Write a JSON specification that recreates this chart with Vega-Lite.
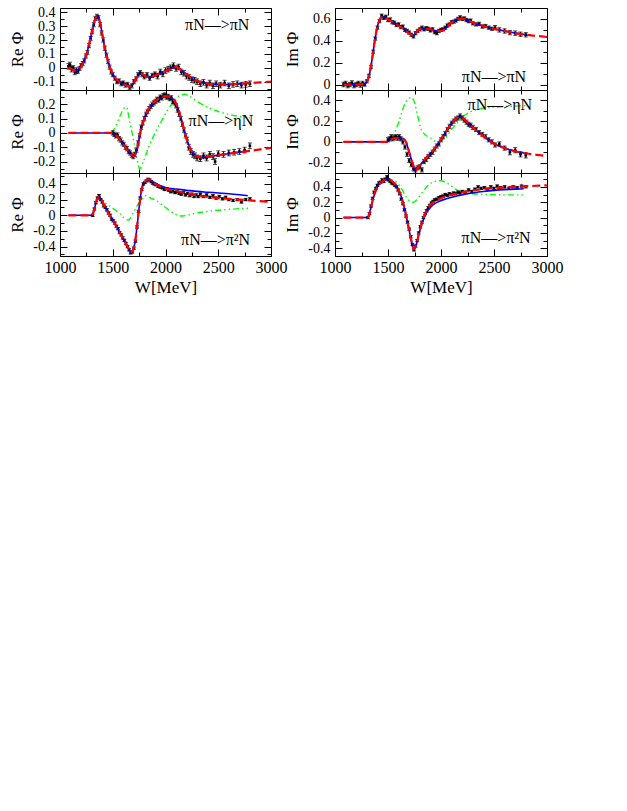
{
"$schema": "https://vega.github.io/schema/vega-lite/v6.json",
"background": "white",
"padding": {"left": 7, "top": 0, "right": 5, "bottom": 5},
"config": {
  "font": "Liberation Serif",
  "view": {"stroke": "black", "strokeWidth": 1},
  "axis": {"domain": false, "grid": false, "labelFont": "Liberation Serif", "labelColor": "black", "titleFont": "Liberation Serif", "titleFontSize": 17, "titleFontWeight": "normal", "titleColor": "black", "tickColor": "black", "tickWidth": 1, "labelFlush": false, "labelOverlap": false},
  "axisX": {"labelFontSize": 16},
  "axisY": {"labelFontSize": 14}
},
"datasets": {
"rows": [
{"panel":"A","series":"label","label":"πN––>πN"},{"panel":"B","series":"label","label":"πN––>πN"},{"panel":"C","series":"label","label":"πN––>ηN"},{"panel":"D","series":"label","label":"πN––>ηN"},{"panel":"E","series":"label","label":"πN––>π²N"},{"panel":"F","series":"label","label":"πN––>π²N"},
{"panel":"A","series":"red","W":1080,"v":0},{"panel":"A","series":"red","W":1120,"v":-0.015},{"panel":"A","series":"red","W":1150,"v":-0.02},{"panel":"A","series":"red","W":1180,"v":-0.01},{"panel":"A","series":"red","W":1210,"v":0.02},{"panel":"A","series":"red","W":1240,"v":0.07},{"panel":"A","series":"red","W":1270,"v":0.15},{"panel":"A","series":"red","W":1300,"v":0.25},{"panel":"A","series":"red","W":1325,"v":0.33},{"panel":"A","series":"red","W":1350,"v":0.372},{"panel":"A","series":"red","W":1370,"v":0.35},{"panel":"A","series":"red","W":1390,"v":0.285},{"panel":"A","series":"red","W":1410,"v":0.2},{"panel":"A","series":"red","W":1430,"v":0.125},{"panel":"A","series":"red","W":1460,"v":0.035},{"panel":"A","series":"red","W":1490,"v":-0.03},{"panel":"A","series":"red","W":1520,"v":-0.07},{"panel":"A","series":"red","W":1560,"v":-0.1},{"panel":"A","series":"red","W":1600,"v":-0.117},{"panel":"A","series":"red","W":1640,"v":-0.13},{"panel":"A","series":"red","W":1670,"v":-0.135},{"panel":"A","series":"red","W":1700,"v":-0.11},{"panel":"A","series":"red","W":1730,"v":-0.07},{"panel":"A","series":"red","W":1760,"v":-0.045},{"panel":"A","series":"red","W":1790,"v":-0.05},{"panel":"A","series":"red","W":1820,"v":-0.065},{"panel":"A","series":"red","W":1860,"v":-0.066},{"panel":"A","series":"red","W":1900,"v":-0.056},{"panel":"A","series":"red","W":1950,"v":-0.04},{"panel":"A","series":"red","W":2000,"v":-0.025},{"panel":"A","series":"red","W":2050,"v":-0.006},{"panel":"A","series":"red","W":2090,"v":0.004},{"panel":"A","series":"red","W":2120,"v":0},{"panel":"A","series":"red","W":2150,"v":-0.018},{"panel":"A","series":"red","W":2200,"v":-0.05},{"panel":"A","series":"red","W":2250,"v":-0.076},{"panel":"A","series":"red","W":2300,"v":-0.095},{"panel":"A","series":"red","W":2350,"v":-0.108},{"panel":"A","series":"red","W":2400,"v":-0.115},{"panel":"A","series":"red","W":2500,"v":-0.12},{"panel":"A","series":"red","W":2600,"v":-0.12},{"panel":"A","series":"red","W":2700,"v":-0.116},{"panel":"A","series":"red","W":2800,"v":-0.11},{"panel":"A","series":"red","W":2900,"v":-0.105},{"panel":"A","series":"red","W":3000,"v":-0.1},
{"panel":"A","series":"blue","W":1080,"v":0},{"panel":"A","series":"blue","W":1120,"v":-0.015},{"panel":"A","series":"blue","W":1150,"v":-0.02},{"panel":"A","series":"blue","W":1180,"v":-0.01},{"panel":"A","series":"blue","W":1210,"v":0.02},{"panel":"A","series":"blue","W":1240,"v":0.07},{"panel":"A","series":"blue","W":1270,"v":0.15},{"panel":"A","series":"blue","W":1300,"v":0.25},{"panel":"A","series":"blue","W":1325,"v":0.33},{"panel":"A","series":"blue","W":1350,"v":0.372},{"panel":"A","series":"blue","W":1370,"v":0.35},{"panel":"A","series":"blue","W":1390,"v":0.285},{"panel":"A","series":"blue","W":1410,"v":0.2},{"panel":"A","series":"blue","W":1430,"v":0.125},{"panel":"A","series":"blue","W":1460,"v":0.035},{"panel":"A","series":"blue","W":1490,"v":-0.03},{"panel":"A","series":"blue","W":1520,"v":-0.07},{"panel":"A","series":"blue","W":1560,"v":-0.1},{"panel":"A","series":"blue","W":1600,"v":-0.117},{"panel":"A","series":"blue","W":1640,"v":-0.13},{"panel":"A","series":"blue","W":1670,"v":-0.135},{"panel":"A","series":"blue","W":1700,"v":-0.11},{"panel":"A","series":"blue","W":1730,"v":-0.07},{"panel":"A","series":"blue","W":1760,"v":-0.045},{"panel":"A","series":"blue","W":1790,"v":-0.05},{"panel":"A","series":"blue","W":1820,"v":-0.065},{"panel":"A","series":"blue","W":1860,"v":-0.066},{"panel":"A","series":"blue","W":1900,"v":-0.056},{"panel":"A","series":"blue","W":1950,"v":-0.04},{"panel":"A","series":"blue","W":2000,"v":-0.025},{"panel":"A","series":"blue","W":2050,"v":-0.006},{"panel":"A","series":"blue","W":2090,"v":0.004},{"panel":"A","series":"blue","W":2120,"v":0},{"panel":"A","series":"blue","W":2150,"v":-0.018},{"panel":"A","series":"blue","W":2200,"v":-0.05},{"panel":"A","series":"blue","W":2250,"v":-0.076},{"panel":"A","series":"blue","W":2300,"v":-0.095},{"panel":"A","series":"blue","W":2350,"v":-0.108},{"panel":"A","series":"blue","W":2400,"v":-0.115},{"panel":"A","series":"blue","W":2500,"v":-0.12},{"panel":"A","series":"blue","W":2600,"v":-0.12},{"panel":"A","series":"blue","W":2700,"v":-0.116},{"panel":"A","series":"blue","W":2800,"v":-0.11},
{"panel":"A","series":"data","W":1080,"v":0.01,"err":0.02},{"panel":"A","series":"data","W":1095,"v":0.02,"err":0.02},{"panel":"A","series":"data","W":1110,"v":-0.01,"err":0.02},{"panel":"A","series":"data","W":1125,"v":0,"err":0.015},{"panel":"A","series":"data","W":1140,"v":-0.03,"err":0.02},{"panel":"A","series":"data","W":1155,"v":-0.02,"err":0.02},{"panel":"A","series":"data","W":1170,"v":-0.025,"err":0.015},{"panel":"A","series":"data","W":1185,"v":-0.005,"err":0.015},{"panel":"A","series":"data","W":1200,"v":0.015,"err":0.015},{"panel":"A","series":"data","W":1215,"v":0.03,"err":0.015},{"panel":"A","series":"data","W":1230,"v":0.05,"err":0.015},{"panel":"A","series":"data","W":1245,"v":0.085,"err":0.015},{"panel":"A","series":"data","W":1260,"v":0.11,"err":0.015},{"panel":"A","series":"data","W":1275,"v":0.16,"err":0.015},{"panel":"A","series":"data","W":1290,"v":0.21,"err":0.015},{"panel":"A","series":"data","W":1305,"v":0.26,"err":0.015},{"panel":"A","series":"data","W":1320,"v":0.31,"err":0.015},{"panel":"A","series":"data","W":1335,"v":0.355,"err":0.015},{"panel":"A","series":"data","W":1350,"v":0.37,"err":0.015},{"panel":"A","series":"data","W":1365,"v":0.36,"err":0.015},{"panel":"A","series":"data","W":1380,"v":0.31,"err":0.015},{"panel":"A","series":"data","W":1395,"v":0.25,"err":0.015},{"panel":"A","series":"data","W":1410,"v":0.2,"err":0.015},{"panel":"A","series":"data","W":1425,"v":0.14,"err":0.015},{"panel":"A","series":"data","W":1440,"v":0.09,"err":0.015},{"panel":"A","series":"data","W":1455,"v":0.045,"err":0.015},{"panel":"A","series":"data","W":1470,"v":0.005,"err":0.015},{"panel":"A","series":"data","W":1485,"v":-0.03,"err":0.015},{"panel":"A","series":"data","W":1500,"v":-0.05,"err":0.015},{"panel":"A","series":"data","W":1520,"v":-0.075,"err":0.015},{"panel":"A","series":"data","W":1540,"v":-0.1,"err":0.015},{"panel":"A","series":"data","W":1560,"v":-0.095,"err":0.015},{"panel":"A","series":"data","W":1580,"v":-0.115,"err":0.015},{"panel":"A","series":"data","W":1600,"v":-0.11,"err":0.015},{"panel":"A","series":"data","W":1620,"v":-0.125,"err":0.015},{"panel":"A","series":"data","W":1640,"v":-0.12,"err":0.015},{"panel":"A","series":"data","W":1660,"v":-0.14,"err":0.015},{"panel":"A","series":"data","W":1680,"v":-0.13,"err":0.015},{"panel":"A","series":"data","W":1700,"v":-0.1,"err":0.015},{"panel":"A","series":"data","W":1720,"v":-0.08,"err":0.015},{"panel":"A","series":"data","W":1740,"v":-0.05,"err":0.015},{"panel":"A","series":"data","W":1760,"v":-0.035,"err":0.015},{"panel":"A","series":"data","W":1780,"v":-0.05,"err":0.015},{"panel":"A","series":"data","W":1800,"v":-0.065,"err":0.015},{"panel":"A","series":"data","W":1825,"v":-0.05,"err":0.015},{"panel":"A","series":"data","W":1850,"v":-0.075,"err":0.015},{"panel":"A","series":"data","W":1875,"v":-0.055,"err":0.015},{"panel":"A","series":"data","W":1900,"v":-0.045,"err":0.015},{"panel":"A","series":"data","W":1925,"v":-0.06,"err":0.02},{"panel":"A","series":"data","W":1950,"v":-0.03,"err":0.02},{"panel":"A","series":"data","W":1975,"v":-0.045,"err":0.02},{"panel":"A","series":"data","W":2000,"v":-0.02,"err":0.02},{"panel":"A","series":"data","W":2025,"v":-0.01,"err":0.02},{"panel":"A","series":"data","W":2050,"v":0,"err":0.02},{"panel":"A","series":"data","W":2075,"v":0.015,"err":0.02},{"panel":"A","series":"data","W":2100,"v":-0.005,"err":0.02},{"panel":"A","series":"data","W":2125,"v":0.005,"err":0.02},{"panel":"A","series":"data","W":2150,"v":-0.03,"err":0.02},{"panel":"A","series":"data","W":2175,"v":-0.04,"err":0.02},{"panel":"A","series":"data","W":2200,"v":-0.06,"err":0.02},{"panel":"A","series":"data","W":2225,"v":-0.07,"err":0.02},{"panel":"A","series":"data","W":2250,"v":-0.085,"err":0.02},{"panel":"A","series":"data","W":2275,"v":-0.09,"err":0.02},{"panel":"A","series":"data","W":2300,"v":-0.1,"err":0.02},{"panel":"A","series":"data","W":2330,"v":-0.115,"err":0.02},{"panel":"A","series":"data","W":2360,"v":-0.105,"err":0.02},{"panel":"A","series":"data","W":2390,"v":-0.125,"err":0.02},{"panel":"A","series":"data","W":2420,"v":-0.11,"err":0.02},{"panel":"A","series":"data","W":2450,"v":-0.13,"err":0.02},{"panel":"A","series":"data","W":2480,"v":-0.115,"err":0.02},{"panel":"A","series":"data","W":2520,"v":-0.125,"err":0.02},{"panel":"A","series":"data","W":2560,"v":-0.11,"err":0.02},{"panel":"A","series":"data","W":2600,"v":-0.13,"err":0.02},{"panel":"A","series":"data","W":2640,"v":-0.12,"err":0.02},{"panel":"A","series":"data","W":2680,"v":-0.115,"err":0.02},{"panel":"A","series":"data","W":2720,"v":-0.125,"err":0.02},{"panel":"A","series":"data","W":2760,"v":-0.12,"err":0.02},{"panel":"A","series":"data","W":2800,"v":-0.115,"err":0.02},
{"panel":"B","series":"red","W":1080,"v":0},{"panel":"B","series":"red","W":1200,"v":0},{"panel":"B","series":"red","W":1270,"v":0.003},{"panel":"B","series":"red","W":1300,"v":0.02},{"panel":"B","series":"red","W":1320,"v":0.075},{"panel":"B","series":"red","W":1340,"v":0.17},{"panel":"B","series":"red","W":1360,"v":0.3},{"panel":"B","series":"red","W":1380,"v":0.43},{"panel":"B","series":"red","W":1400,"v":0.53},{"panel":"B","series":"red","W":1420,"v":0.59},{"panel":"B","series":"red","W":1440,"v":0.615},{"panel":"B","series":"red","W":1460,"v":0.62},{"panel":"B","series":"red","W":1490,"v":0.603},{"panel":"B","series":"red","W":1530,"v":0.578},{"panel":"B","series":"red","W":1580,"v":0.55},{"panel":"B","series":"red","W":1630,"v":0.52},{"panel":"B","series":"red","W":1680,"v":0.482},{"panel":"B","series":"red","W":1710,"v":0.46},{"panel":"B","series":"red","W":1735,"v":0.445},{"panel":"B","series":"red","W":1755,"v":0.46},{"panel":"B","series":"red","W":1780,"v":0.493},{"panel":"B","series":"red","W":1820,"v":0.51},{"panel":"B","series":"red","W":1870,"v":0.51},{"panel":"B","series":"red","W":1920,"v":0.5},{"panel":"B","series":"red","W":1960,"v":0.49},{"panel":"B","series":"red","W":2000,"v":0.49},{"panel":"B","series":"red","W":2040,"v":0.51},{"panel":"B","series":"red","W":2080,"v":0.55},{"panel":"B","series":"red","W":2120,"v":0.58},{"panel":"B","series":"red","W":2160,"v":0.6},{"panel":"B","series":"red","W":2200,"v":0.602},{"panel":"B","series":"red","W":2250,"v":0.587},{"panel":"B","series":"red","W":2300,"v":0.567},{"panel":"B","series":"red","W":2400,"v":0.535},{"panel":"B","series":"red","W":2500,"v":0.51},{"panel":"B","series":"red","W":2600,"v":0.49},{"panel":"B","series":"red","W":2700,"v":0.47},{"panel":"B","series":"red","W":2800,"v":0.455},{"panel":"B","series":"red","W":2900,"v":0.445},{"panel":"B","series":"red","W":3000,"v":0.435},
{"panel":"B","series":"blue","W":1080,"v":0},{"panel":"B","series":"blue","W":1200,"v":0},{"panel":"B","series":"blue","W":1270,"v":0.003},{"panel":"B","series":"blue","W":1300,"v":0.02},{"panel":"B","series":"blue","W":1320,"v":0.075},{"panel":"B","series":"blue","W":1340,"v":0.17},{"panel":"B","series":"blue","W":1360,"v":0.3},{"panel":"B","series":"blue","W":1380,"v":0.43},{"panel":"B","series":"blue","W":1400,"v":0.53},{"panel":"B","series":"blue","W":1420,"v":0.59},{"panel":"B","series":"blue","W":1440,"v":0.615},{"panel":"B","series":"blue","W":1460,"v":0.62},{"panel":"B","series":"blue","W":1490,"v":0.603},{"panel":"B","series":"blue","W":1530,"v":0.578},{"panel":"B","series":"blue","W":1580,"v":0.55},{"panel":"B","series":"blue","W":1630,"v":0.52},{"panel":"B","series":"blue","W":1680,"v":0.482},{"panel":"B","series":"blue","W":1710,"v":0.46},{"panel":"B","series":"blue","W":1735,"v":0.445},{"panel":"B","series":"blue","W":1755,"v":0.46},{"panel":"B","series":"blue","W":1780,"v":0.493},{"panel":"B","series":"blue","W":1820,"v":0.51},{"panel":"B","series":"blue","W":1870,"v":0.51},{"panel":"B","series":"blue","W":1920,"v":0.5},{"panel":"B","series":"blue","W":1960,"v":0.49},{"panel":"B","series":"blue","W":2000,"v":0.49},{"panel":"B","series":"blue","W":2040,"v":0.51},{"panel":"B","series":"blue","W":2080,"v":0.55},{"panel":"B","series":"blue","W":2120,"v":0.58},{"panel":"B","series":"blue","W":2160,"v":0.6},{"panel":"B","series":"blue","W":2200,"v":0.602},{"panel":"B","series":"blue","W":2250,"v":0.587},{"panel":"B","series":"blue","W":2300,"v":0.567},{"panel":"B","series":"blue","W":2400,"v":0.535},{"panel":"B","series":"blue","W":2500,"v":0.51},{"panel":"B","series":"blue","W":2600,"v":0.49},{"panel":"B","series":"blue","W":2700,"v":0.47},{"panel":"B","series":"blue","W":2800,"v":0.455},
{"panel":"B","series":"data","W":1080,"v":0,"err":0.02},{"panel":"B","series":"data","W":1100,"v":0.01,"err":0.02},{"panel":"B","series":"data","W":1120,"v":-0.01,"err":0.02},{"panel":"B","series":"data","W":1140,"v":0,"err":0.02},{"panel":"B","series":"data","W":1160,"v":0.015,"err":0.02},{"panel":"B","series":"data","W":1180,"v":-0.01,"err":0.02},{"panel":"B","series":"data","W":1200,"v":0,"err":0.02},{"panel":"B","series":"data","W":1220,"v":0.01,"err":0.02},{"panel":"B","series":"data","W":1240,"v":-0.005,"err":0.02},{"panel":"B","series":"data","W":1260,"v":0.01,"err":0.02},{"panel":"B","series":"data","W":1280,"v":0,"err":0.015},{"panel":"B","series":"data","W":1300,"v":0.03,"err":0.015},{"panel":"B","series":"data","W":1320,"v":0.08,"err":0.015},{"panel":"B","series":"data","W":1340,"v":0.16,"err":0.015},{"panel":"B","series":"data","W":1360,"v":0.3,"err":0.015},{"panel":"B","series":"data","W":1380,"v":0.42,"err":0.015},{"panel":"B","series":"data","W":1400,"v":0.52,"err":0.015},{"panel":"B","series":"data","W":1420,"v":0.58,"err":0.015},{"panel":"B","series":"data","W":1440,"v":0.63,"err":0.015},{"panel":"B","series":"data","W":1460,"v":0.61,"err":0.015},{"panel":"B","series":"data","W":1480,"v":0.62,"err":0.015},{"panel":"B","series":"data","W":1500,"v":0.59,"err":0.015},{"panel":"B","series":"data","W":1520,"v":0.595,"err":0.015},{"panel":"B","series":"data","W":1540,"v":0.57,"err":0.015},{"panel":"B","series":"data","W":1560,"v":0.565,"err":0.015},{"panel":"B","series":"data","W":1580,"v":0.545,"err":0.015},{"panel":"B","series":"data","W":1600,"v":0.55,"err":0.015},{"panel":"B","series":"data","W":1620,"v":0.525,"err":0.015},{"panel":"B","series":"data","W":1640,"v":0.53,"err":0.015},{"panel":"B","series":"data","W":1660,"v":0.5,"err":0.015},{"panel":"B","series":"data","W":1680,"v":0.49,"err":0.015},{"panel":"B","series":"data","W":1700,"v":0.475,"err":0.015},{"panel":"B","series":"data","W":1720,"v":0.455,"err":0.015},{"panel":"B","series":"data","W":1740,"v":0.44,"err":0.015},{"panel":"B","series":"data","W":1760,"v":0.47,"err":0.015},{"panel":"B","series":"data","W":1780,"v":0.49,"err":0.015},{"panel":"B","series":"data","W":1800,"v":0.505,"err":0.015},{"panel":"B","series":"data","W":1820,"v":0.52,"err":0.015},{"panel":"B","series":"data","W":1840,"v":0.505,"err":0.015},{"panel":"B","series":"data","W":1860,"v":0.515,"err":0.015},{"panel":"B","series":"data","W":1880,"v":0.51,"err":0.015},{"panel":"B","series":"data","W":1900,"v":0.495,"err":0.015},{"panel":"B","series":"data","W":1920,"v":0.505,"err":0.015},{"panel":"B","series":"data","W":1940,"v":0.48,"err":0.015},{"panel":"B","series":"data","W":1960,"v":0.47,"err":0.015},{"panel":"B","series":"data","W":1980,"v":0.49,"err":0.015},{"panel":"B","series":"data","W":2000,"v":0.5,"err":0.015},{"panel":"B","series":"data","W":2020,"v":0.505,"err":0.015},{"panel":"B","series":"data","W":2040,"v":0.52,"err":0.015},{"panel":"B","series":"data","W":2060,"v":0.54,"err":0.015},{"panel":"B","series":"data","W":2080,"v":0.55,"err":0.015},{"panel":"B","series":"data","W":2100,"v":0.57,"err":0.015},{"panel":"B","series":"data","W":2120,"v":0.575,"err":0.015},{"panel":"B","series":"data","W":2140,"v":0.585,"err":0.015},{"panel":"B","series":"data","W":2160,"v":0.6,"err":0.015},{"panel":"B","series":"data","W":2180,"v":0.615,"err":0.015},{"panel":"B","series":"data","W":2200,"v":0.6,"err":0.015},{"panel":"B","series":"data","W":2220,"v":0.605,"err":0.015},{"panel":"B","series":"data","W":2240,"v":0.59,"err":0.015},{"panel":"B","series":"data","W":2260,"v":0.58,"err":0.015},{"panel":"B","series":"data","W":2280,"v":0.585,"err":0.015},{"panel":"B","series":"data","W":2300,"v":0.56,"err":0.015},{"panel":"B","series":"data","W":2330,"v":0.55,"err":0.015},{"panel":"B","series":"data","W":2360,"v":0.555,"err":0.015},{"panel":"B","series":"data","W":2390,"v":0.53,"err":0.015},{"panel":"B","series":"data","W":2420,"v":0.535,"err":0.015},{"panel":"B","series":"data","W":2450,"v":0.52,"err":0.015},{"panel":"B","series":"data","W":2480,"v":0.51,"err":0.015},{"panel":"B","series":"data","W":2510,"v":0.52,"err":0.02},{"panel":"B","series":"data","W":2550,"v":0.5,"err":0.02},{"panel":"B","series":"data","W":2600,"v":0.49,"err":0.02},{"panel":"B","series":"data","W":2650,"v":0.475,"err":0.02},{"panel":"B","series":"data","W":2700,"v":0.47,"err":0.02},{"panel":"B","series":"data","W":2750,"v":0.46,"err":0.02},{"panel":"B","series":"data","W":2800,"v":0.455,"err":0.02},
{"panel":"C","series":"red","W":1080,"v":0},{"panel":"C","series":"red","W":1490,"v":0},{"panel":"C","series":"red","W":1520,"v":-0.01},{"panel":"C","series":"red","W":1560,"v":-0.04},{"panel":"C","series":"red","W":1600,"v":-0.08},{"panel":"C","series":"red","W":1640,"v":-0.12},{"panel":"C","series":"red","W":1670,"v":-0.148},{"panel":"C","series":"red","W":1700,"v":-0.16},{"panel":"C","series":"red","W":1720,"v":-0.14},{"panel":"C","series":"red","W":1740,"v":-0.08},{"panel":"C","series":"red","W":1760,"v":0},{"panel":"C","series":"red","W":1790,"v":0.08},{"panel":"C","series":"red","W":1820,"v":0.14},{"panel":"C","series":"red","W":1860,"v":0.19},{"panel":"C","series":"red","W":1900,"v":0.22},{"panel":"C","series":"red","W":1950,"v":0.245},{"panel":"C","series":"red","W":2000,"v":0.257},{"panel":"C","series":"red","W":2040,"v":0.25},{"panel":"C","series":"red","W":2080,"v":0.23},{"panel":"C","series":"red","W":2110,"v":0.19},{"panel":"C","series":"red","W":2140,"v":0.12},{"panel":"C","series":"red","W":2170,"v":0.04},{"panel":"C","series":"red","W":2200,"v":-0.04},{"panel":"C","series":"red","W":2230,"v":-0.1},{"panel":"C","series":"red","W":2260,"v":-0.14},{"panel":"C","series":"red","W":2300,"v":-0.165},{"panel":"C","series":"red","W":2350,"v":-0.172},{"panel":"C","series":"red","W":2400,"v":-0.166},{"panel":"C","series":"red","W":2500,"v":-0.155},{"panel":"C","series":"red","W":2600,"v":-0.145},{"panel":"C","series":"red","W":2700,"v":-0.135},{"panel":"C","series":"red","W":2800,"v":-0.125},{"panel":"C","series":"red","W":2900,"v":-0.115},{"panel":"C","series":"red","W":3000,"v":-0.105},
{"panel":"C","series":"blue","W":1080,"v":0},{"panel":"C","series":"blue","W":1490,"v":0},{"panel":"C","series":"blue","W":1520,"v":-0.01},{"panel":"C","series":"blue","W":1560,"v":-0.04},{"panel":"C","series":"blue","W":1600,"v":-0.08},{"panel":"C","series":"blue","W":1640,"v":-0.12},{"panel":"C","series":"blue","W":1670,"v":-0.148},{"panel":"C","series":"blue","W":1700,"v":-0.16},{"panel":"C","series":"blue","W":1720,"v":-0.14},{"panel":"C","series":"blue","W":1740,"v":-0.08},{"panel":"C","series":"blue","W":1760,"v":0},{"panel":"C","series":"blue","W":1790,"v":0.08},{"panel":"C","series":"blue","W":1820,"v":0.14},{"panel":"C","series":"blue","W":1860,"v":0.19},{"panel":"C","series":"blue","W":1900,"v":0.22},{"panel":"C","series":"blue","W":1950,"v":0.245},{"panel":"C","series":"blue","W":2000,"v":0.257},{"panel":"C","series":"blue","W":2040,"v":0.25},{"panel":"C","series":"blue","W":2080,"v":0.23},{"panel":"C","series":"blue","W":2110,"v":0.19},{"panel":"C","series":"blue","W":2140,"v":0.12},{"panel":"C","series":"blue","W":2170,"v":0.04},{"panel":"C","series":"blue","W":2200,"v":-0.04},{"panel":"C","series":"blue","W":2230,"v":-0.1},{"panel":"C","series":"blue","W":2260,"v":-0.14},{"panel":"C","series":"blue","W":2300,"v":-0.165},{"panel":"C","series":"blue","W":2350,"v":-0.172},{"panel":"C","series":"blue","W":2400,"v":-0.166},{"panel":"C","series":"blue","W":2500,"v":-0.155},{"panel":"C","series":"blue","W":2600,"v":-0.145},{"panel":"C","series":"blue","W":2700,"v":-0.135},{"panel":"C","series":"blue","W":2800,"v":-0.125},
{"panel":"C","series":"green","W":1490,"v":0},{"panel":"C","series":"green","W":1530,"v":0.05},{"panel":"C","series":"green","W":1570,"v":0.12},{"panel":"C","series":"green","W":1610,"v":0.175},{"panel":"C","series":"green","W":1630,"v":0.18},{"panel":"C","series":"green","W":1660,"v":0.08},{"panel":"C","series":"green","W":1700,"v":-0.06},{"panel":"C","series":"green","W":1730,"v":-0.18},{"panel":"C","series":"green","W":1755,"v":-0.25},{"panel":"C","series":"green","W":1790,"v":-0.2},{"panel":"C","series":"green","W":1840,"v":-0.1},{"panel":"C","series":"green","W":1900,"v":0},{"panel":"C","series":"green","W":1960,"v":0.08},{"panel":"C","series":"green","W":2020,"v":0.16},{"panel":"C","series":"green","W":2080,"v":0.22},{"panel":"C","series":"green","W":2130,"v":0.26},{"panel":"C","series":"green","W":2180,"v":0.27},{"panel":"C","series":"green","W":2230,"v":0.255},{"panel":"C","series":"green","W":2300,"v":0.22},{"panel":"C","series":"green","W":2400,"v":0.18},{"panel":"C","series":"green","W":2500,"v":0.15},{"panel":"C","series":"green","W":2600,"v":0.13},{"panel":"C","series":"green","W":2700,"v":0.115},{"panel":"C","series":"green","W":2800,"v":0.105},
{"panel":"C","series":"data","W":1500,"v":0,"err":0.015},{"panel":"C","series":"data","W":1515,"v":-0.01,"err":0.015},{"panel":"C","series":"data","W":1530,"v":-0.02,"err":0.015},{"panel":"C","series":"data","W":1545,"v":-0.015,"err":0.015},{"panel":"C","series":"data","W":1560,"v":-0.04,"err":0.015},{"panel":"C","series":"data","W":1575,"v":-0.05,"err":0.015},{"panel":"C","series":"data","W":1590,"v":-0.07,"err":0.015},{"panel":"C","series":"data","W":1605,"v":-0.08,"err":0.015},{"panel":"C","series":"data","W":1620,"v":-0.1,"err":0.015},{"panel":"C","series":"data","W":1635,"v":-0.11,"err":0.015},{"panel":"C","series":"data","W":1650,"v":-0.13,"err":0.015},{"panel":"C","series":"data","W":1665,"v":-0.14,"err":0.015},{"panel":"C","series":"data","W":1680,"v":-0.155,"err":0.015},{"panel":"C","series":"data","W":1695,"v":-0.165,"err":0.015},{"panel":"C","series":"data","W":1710,"v":-0.15,"err":0.015},{"panel":"C","series":"data","W":1725,"v":-0.12,"err":0.015},{"panel":"C","series":"data","W":1740,"v":-0.07,"err":0.015},{"panel":"C","series":"data","W":1755,"v":-0.02,"err":0.015},{"panel":"C","series":"data","W":1770,"v":0.04,"err":0.015},{"panel":"C","series":"data","W":1785,"v":0.07,"err":0.015},{"panel":"C","series":"data","W":1800,"v":0.1,"err":0.015},{"panel":"C","series":"data","W":1815,"v":0.13,"err":0.015},{"panel":"C","series":"data","W":1830,"v":0.15,"err":0.015},{"panel":"C","series":"data","W":1845,"v":0.17,"err":0.015},{"panel":"C","series":"data","W":1860,"v":0.185,"err":0.015},{"panel":"C","series":"data","W":1875,"v":0.2,"err":0.015},{"panel":"C","series":"data","W":1890,"v":0.21,"err":0.015},{"panel":"C","series":"data","W":1905,"v":0.22,"err":0.015},{"panel":"C","series":"data","W":1920,"v":0.235,"err":0.015},{"panel":"C","series":"data","W":1935,"v":0.23,"err":0.015},{"panel":"C","series":"data","W":1950,"v":0.25,"err":0.015},{"panel":"C","series":"data","W":1965,"v":0.245,"err":0.015},{"panel":"C","series":"data","W":1980,"v":0.26,"err":0.015},{"panel":"C","series":"data","W":1995,"v":0.265,"err":0.015},{"panel":"C","series":"data","W":2010,"v":0.25,"err":0.015},{"panel":"C","series":"data","W":2025,"v":0.255,"err":0.015},{"panel":"C","series":"data","W":2040,"v":0.24,"err":0.015},{"panel":"C","series":"data","W":2055,"v":0.245,"err":0.015},{"panel":"C","series":"data","W":2070,"v":0.22,"err":0.015},{"panel":"C","series":"data","W":2085,"v":0.21,"err":0.015},{"panel":"C","series":"data","W":2100,"v":0.19,"err":0.015},{"panel":"C","series":"data","W":2115,"v":0.16,"err":0.015},{"panel":"C","series":"data","W":2130,"v":0.13,"err":0.015},{"panel":"C","series":"data","W":2145,"v":0.1,"err":0.015},{"panel":"C","series":"data","W":2160,"v":0.06,"err":0.015},{"panel":"C","series":"data","W":2175,"v":0.02,"err":0.015},{"panel":"C","series":"data","W":2190,"v":-0.02,"err":0.015},{"panel":"C","series":"data","W":2205,"v":-0.05,"err":0.02},{"panel":"C","series":"data","W":2220,"v":-0.1,"err":0.02},{"panel":"C","series":"data","W":2240,"v":-0.13,"err":0.02},{"panel":"C","series":"data","W":2260,"v":-0.15,"err":0.02},{"panel":"C","series":"data","W":2280,"v":-0.16,"err":0.02},{"panel":"C","series":"data","W":2300,"v":-0.175,"err":0.02},{"panel":"C","series":"data","W":2330,"v":-0.18,"err":0.02},{"panel":"C","series":"data","W":2360,"v":-0.16,"err":0.02},{"panel":"C","series":"data","W":2390,"v":-0.175,"err":0.02},{"panel":"C","series":"data","W":2420,"v":-0.15,"err":0.02},{"panel":"C","series":"data","W":2450,"v":-0.165,"err":0.02},{"panel":"C","series":"data","W":2470,"v":-0.2,"err":0.02},{"panel":"C","series":"data","W":2500,"v":-0.145,"err":0.02},{"panel":"C","series":"data","W":2550,"v":-0.15,"err":0.02},{"panel":"C","series":"data","W":2600,"v":-0.14,"err":0.02},{"panel":"C","series":"data","W":2650,"v":-0.135,"err":0.02},{"panel":"C","series":"data","W":2700,"v":-0.13,"err":0.02},{"panel":"C","series":"data","W":2750,"v":-0.12,"err":0.02},{"panel":"C","series":"data","W":2800,"v":-0.09,"err":0.02},
{"panel":"D","series":"red","W":1080,"v":0},{"panel":"D","series":"red","W":1490,"v":0},{"panel":"D","series":"red","W":1520,"v":0.02},{"panel":"D","series":"red","W":1560,"v":0.035},{"panel":"D","series":"red","W":1600,"v":0.04},{"panel":"D","series":"red","W":1640,"v":0.033},{"panel":"D","series":"red","W":1670,"v":0},{"panel":"D","series":"red","W":1700,"v":-0.1},{"panel":"D","series":"red","W":1730,"v":-0.2},{"panel":"D","series":"red","W":1760,"v":-0.275},{"panel":"D","series":"red","W":1790,"v":-0.24},{"panel":"D","series":"red","W":1830,"v":-0.19},{"panel":"D","series":"red","W":1870,"v":-0.14},{"panel":"D","series":"red","W":1920,"v":-0.09},{"panel":"D","series":"red","W":1970,"v":-0.02},{"panel":"D","series":"red","W":2010,"v":0.04},{"panel":"D","series":"red","W":2060,"v":0.12},{"panel":"D","series":"red","W":2110,"v":0.19},{"panel":"D","series":"red","W":2150,"v":0.23},{"panel":"D","series":"red","W":2185,"v":0.24},{"panel":"D","series":"red","W":2220,"v":0.215},{"panel":"D","series":"red","W":2260,"v":0.18},{"panel":"D","series":"red","W":2320,"v":0.12},{"panel":"D","series":"red","W":2380,"v":0.07},{"panel":"D","series":"red","W":2440,"v":0.025},{"panel":"D","series":"red","W":2500,"v":-0.015},{"panel":"D","series":"red","W":2600,"v":-0.06},{"panel":"D","series":"red","W":2700,"v":-0.09},{"panel":"D","series":"red","W":2800,"v":-0.11},{"panel":"D","series":"red","W":2900,"v":-0.125},{"panel":"D","series":"red","W":3000,"v":-0.135},
{"panel":"D","series":"blue","W":1080,"v":0},{"panel":"D","series":"blue","W":1490,"v":0},{"panel":"D","series":"blue","W":1520,"v":0.02},{"panel":"D","series":"blue","W":1560,"v":0.035},{"panel":"D","series":"blue","W":1600,"v":0.04},{"panel":"D","series":"blue","W":1640,"v":0.033},{"panel":"D","series":"blue","W":1670,"v":0},{"panel":"D","series":"blue","W":1700,"v":-0.1},{"panel":"D","series":"blue","W":1730,"v":-0.2},{"panel":"D","series":"blue","W":1760,"v":-0.275},{"panel":"D","series":"blue","W":1790,"v":-0.24},{"panel":"D","series":"blue","W":1830,"v":-0.19},{"panel":"D","series":"blue","W":1870,"v":-0.14},{"panel":"D","series":"blue","W":1920,"v":-0.09},{"panel":"D","series":"blue","W":1970,"v":-0.02},{"panel":"D","series":"blue","W":2010,"v":0.04},{"panel":"D","series":"blue","W":2060,"v":0.12},{"panel":"D","series":"blue","W":2110,"v":0.19},{"panel":"D","series":"blue","W":2150,"v":0.23},{"panel":"D","series":"blue","W":2185,"v":0.24},{"panel":"D","series":"blue","W":2220,"v":0.215},{"panel":"D","series":"blue","W":2260,"v":0.18},{"panel":"D","series":"blue","W":2320,"v":0.12},{"panel":"D","series":"blue","W":2380,"v":0.07},{"panel":"D","series":"blue","W":2440,"v":0.025},{"panel":"D","series":"blue","W":2500,"v":-0.015},{"panel":"D","series":"blue","W":2600,"v":-0.06},{"panel":"D","series":"blue","W":2700,"v":-0.09},{"panel":"D","series":"blue","W":2800,"v":-0.11},
{"panel":"D","series":"green","W":1490,"v":0},{"panel":"D","series":"green","W":1540,"v":0.05},{"panel":"D","series":"green","W":1580,"v":0.13},{"panel":"D","series":"green","W":1620,"v":0.25},{"panel":"D","series":"green","W":1660,"v":0.37},{"panel":"D","series":"green","W":1700,"v":0.42},{"panel":"D","series":"green","W":1720,"v":0.43},{"panel":"D","series":"green","W":1750,"v":0.38},{"panel":"D","series":"green","W":1780,"v":0.25},{"panel":"D","series":"green","W":1810,"v":0.13},{"panel":"D","series":"green","W":1850,"v":0.07},{"panel":"D","series":"green","W":1900,"v":0.04},{"panel":"D","series":"green","W":1960,"v":0},{"panel":"D","series":"green","W":2000,"v":0.01},{"panel":"D","series":"green","W":2050,"v":0.05},{"panel":"D","series":"green","W":2100,"v":0.12},{"panel":"D","series":"green","W":2150,"v":0.18},{"panel":"D","series":"green","W":2200,"v":0.24},{"panel":"D","series":"green","W":2260,"v":0.28},{"panel":"D","series":"green","W":2330,"v":0.31},{"panel":"D","series":"green","W":2400,"v":0.325},{"panel":"D","series":"green","W":2500,"v":0.335},{"panel":"D","series":"green","W":2600,"v":0.34},{"panel":"D","series":"green","W":2700,"v":0.345},{"panel":"D","series":"green","W":2800,"v":0.35},
{"panel":"D","series":"data","W":1500,"v":0.02,"err":0.02},{"panel":"D","series":"data","W":1515,"v":0.03,"err":0.02},{"panel":"D","series":"data","W":1530,"v":0.05,"err":0.02},{"panel":"D","series":"data","W":1545,"v":0.03,"err":0.02},{"panel":"D","series":"data","W":1560,"v":0.04,"err":0.02},{"panel":"D","series":"data","W":1575,"v":0.05,"err":0.02},{"panel":"D","series":"data","W":1590,"v":0.035,"err":0.02},{"panel":"D","series":"data","W":1605,"v":0.05,"err":0.02},{"panel":"D","series":"data","W":1620,"v":0.03,"err":0.02},{"panel":"D","series":"data","W":1640,"v":0,"err":0.02},{"panel":"D","series":"data","W":1660,"v":-0.05,"err":0.02},{"panel":"D","series":"data","W":1680,"v":-0.12,"err":0.02},{"panel":"D","series":"data","W":1700,"v":-0.18,"err":0.02},{"panel":"D","series":"data","W":1720,"v":-0.22,"err":0.02},{"panel":"D","series":"data","W":1740,"v":-0.26,"err":0.02},{"panel":"D","series":"data","W":1760,"v":-0.27,"err":0.02},{"panel":"D","series":"data","W":1780,"v":-0.25,"err":0.02},{"panel":"D","series":"data","W":1800,"v":-0.24,"err":0.02},{"panel":"D","series":"data","W":1820,"v":-0.27,"err":0.02},{"panel":"D","series":"data","W":1840,"v":-0.19,"err":0.02},{"panel":"D","series":"data","W":1860,"v":-0.17,"err":0.02},{"panel":"D","series":"data","W":1880,"v":-0.14,"err":0.02},{"panel":"D","series":"data","W":1900,"v":-0.12,"err":0.02},{"panel":"D","series":"data","W":1920,"v":-0.1,"err":0.02},{"panel":"D","series":"data","W":1940,"v":-0.07,"err":0.02},{"panel":"D","series":"data","W":1960,"v":-0.04,"err":0.02},{"panel":"D","series":"data","W":1980,"v":-0.02,"err":0.02},{"panel":"D","series":"data","W":2000,"v":0.02,"err":0.02},{"panel":"D","series":"data","W":2020,"v":0.05,"err":0.02},{"panel":"D","series":"data","W":2040,"v":0.08,"err":0.02},{"panel":"D","series":"data","W":2060,"v":0.12,"err":0.02},{"panel":"D","series":"data","W":2080,"v":0.15,"err":0.02},{"panel":"D","series":"data","W":2100,"v":0.18,"err":0.02},{"panel":"D","series":"data","W":2120,"v":0.2,"err":0.02},{"panel":"D","series":"data","W":2140,"v":0.22,"err":0.02},{"panel":"D","series":"data","W":2160,"v":0.23,"err":0.02},{"panel":"D","series":"data","W":2180,"v":0.25,"err":0.02},{"panel":"D","series":"data","W":2200,"v":0.23,"err":0.02},{"panel":"D","series":"data","W":2220,"v":0.21,"err":0.02},{"panel":"D","series":"data","W":2240,"v":0.19,"err":0.02},{"panel":"D","series":"data","W":2260,"v":0.17,"err":0.02},{"panel":"D","series":"data","W":2280,"v":0.16,"err":0.02},{"panel":"D","series":"data","W":2300,"v":0.14,"err":0.02},{"panel":"D","series":"data","W":2330,"v":0.12,"err":0.02},{"panel":"D","series":"data","W":2360,"v":0.09,"err":0.02},{"panel":"D","series":"data","W":2390,"v":0.07,"err":0.02},{"panel":"D","series":"data","W":2420,"v":0.05,"err":0.02},{"panel":"D","series":"data","W":2450,"v":0.02,"err":0.02},{"panel":"D","series":"data","W":2480,"v":0,"err":0.02},{"panel":"D","series":"data","W":2510,"v":-0.03,"err":0.02},{"panel":"D","series":"data","W":2550,"v":-0.02,"err":0.02},{"panel":"D","series":"data","W":2600,"v":-0.06,"err":0.02},{"panel":"D","series":"data","W":2650,"v":-0.1,"err":0.025},{"panel":"D","series":"data","W":2700,"v":-0.08,"err":0.025},{"panel":"D","series":"data","W":2750,"v":-0.12,"err":0.025},{"panel":"D","series":"data","W":2800,"v":-0.13,"err":0.025},
{"panel":"E","series":"red","W":1080,"v":0},{"panel":"E","series":"red","W":1300,"v":0},{"panel":"E","series":"red","W":1320,"v":0.05},{"panel":"E","series":"red","W":1345,"v":0.18},{"panel":"E","series":"red","W":1370,"v":0.24},{"panel":"E","series":"red","W":1400,"v":0.18},{"panel":"E","series":"red","W":1430,"v":0.1},{"panel":"E","series":"red","W":1470,"v":0},{"panel":"E","series":"red","W":1510,"v":-0.08},{"panel":"E","series":"red","W":1550,"v":-0.18},{"panel":"E","series":"red","W":1600,"v":-0.3},{"panel":"E","series":"red","W":1640,"v":-0.4},{"panel":"E","series":"red","W":1670,"v":-0.47},{"panel":"E","series":"red","W":1690,"v":-0.45},{"panel":"E","series":"red","W":1710,"v":-0.35},{"panel":"E","series":"red","W":1730,"v":-0.15},{"panel":"E","series":"red","W":1750,"v":0.1},{"panel":"E","series":"red","W":1770,"v":0.3},{"panel":"E","series":"red","W":1800,"v":0.42},{"panel":"E","series":"red","W":1840,"v":0.46},{"panel":"E","series":"red","W":1880,"v":0.42},{"panel":"E","series":"red","W":1930,"v":0.38},{"panel":"E","series":"red","W":2000,"v":0.34},{"panel":"E","series":"red","W":2100,"v":0.31},{"panel":"E","series":"red","W":2200,"v":0.28},{"panel":"E","series":"red","W":2300,"v":0.255},{"panel":"E","series":"red","W":2400,"v":0.235},{"panel":"E","series":"red","W":2500,"v":0.22},{"panel":"E","series":"red","W":2600,"v":0.21},{"panel":"E","series":"red","W":2700,"v":0.2},{"panel":"E","series":"red","W":2800,"v":0.19},{"panel":"E","series":"red","W":2900,"v":0.18},{"panel":"E","series":"red","W":3000,"v":0.17},
{"panel":"E","series":"blue","W":1080,"v":0},{"panel":"E","series":"blue","W":1300,"v":0},{"panel":"E","series":"blue","W":1320,"v":0.05},{"panel":"E","series":"blue","W":1345,"v":0.18},{"panel":"E","series":"blue","W":1370,"v":0.24},{"panel":"E","series":"blue","W":1400,"v":0.18},{"panel":"E","series":"blue","W":1430,"v":0.1},{"panel":"E","series":"blue","W":1470,"v":0},{"panel":"E","series":"blue","W":1510,"v":-0.08},{"panel":"E","series":"blue","W":1550,"v":-0.18},{"panel":"E","series":"blue","W":1600,"v":-0.3},{"panel":"E","series":"blue","W":1640,"v":-0.4},{"panel":"E","series":"blue","W":1670,"v":-0.47},{"panel":"E","series":"blue","W":1690,"v":-0.45},{"panel":"E","series":"blue","W":1710,"v":-0.35},{"panel":"E","series":"blue","W":1730,"v":-0.15},{"panel":"E","series":"blue","W":1750,"v":0.1},{"panel":"E","series":"blue","W":1770,"v":0.3},{"panel":"E","series":"blue","W":1800,"v":0.42},{"panel":"E","series":"blue","W":1840,"v":0.46},{"panel":"E","series":"blue","W":1880,"v":0.425},{"panel":"E","series":"blue","W":1930,"v":0.39},{"panel":"E","series":"blue","W":2000,"v":0.355},{"panel":"E","series":"blue","W":2100,"v":0.335},{"panel":"E","series":"blue","W":2200,"v":0.32},{"panel":"E","series":"blue","W":2300,"v":0.305},{"panel":"E","series":"blue","W":2400,"v":0.295},{"panel":"E","series":"blue","W":2500,"v":0.285},{"panel":"E","series":"blue","W":2600,"v":0.275},{"panel":"E","series":"blue","W":2700,"v":0.262},{"panel":"E","series":"blue","W":2780,"v":0.25},
{"panel":"E","series":"green","W":1370,"v":0.24},{"panel":"E","series":"green","W":1420,"v":0.17},{"panel":"E","series":"green","W":1470,"v":0.12},{"panel":"E","series":"green","W":1520,"v":0.07},{"panel":"E","series":"green","W":1570,"v":0.02},{"panel":"E","series":"green","W":1620,"v":-0.05},{"panel":"E","series":"green","W":1650,"v":-0.06},{"panel":"E","series":"green","W":1690,"v":0.02},{"panel":"E","series":"green","W":1730,"v":0.12},{"panel":"E","series":"green","W":1770,"v":0.2},{"panel":"E","series":"green","W":1810,"v":0.25},{"panel":"E","series":"green","W":1860,"v":0.22},{"panel":"E","series":"green","W":1920,"v":0.18},{"panel":"E","series":"green","W":1980,"v":0.12},{"panel":"E","series":"green","W":2040,"v":0.06},{"panel":"E","series":"green","W":2100,"v":0.01},{"panel":"E","series":"green","W":2150,"v":-0.01},{"panel":"E","series":"green","W":2200,"v":0},{"panel":"E","series":"green","W":2300,"v":0.03},{"panel":"E","series":"green","W":2400,"v":0.05},{"panel":"E","series":"green","W":2500,"v":0.065},{"panel":"E","series":"green","W":2600,"v":0.075},{"panel":"E","series":"green","W":2700,"v":0.085},{"panel":"E","series":"green","W":2800,"v":0.09},
{"panel":"E","series":"data","W":1310,"v":0,"err":0.015},{"panel":"E","series":"data","W":1325,"v":0.08,"err":0.015},{"panel":"E","series":"data","W":1340,"v":0.16,"err":0.015},{"panel":"E","series":"data","W":1355,"v":0.22,"err":0.015},{"panel":"E","series":"data","W":1370,"v":0.25,"err":0.015},{"panel":"E","series":"data","W":1385,"v":0.2,"err":0.015},{"panel":"E","series":"data","W":1400,"v":0.17,"err":0.015},{"panel":"E","series":"data","W":1415,"v":0.12,"err":0.015},{"panel":"E","series":"data","W":1430,"v":0.1,"err":0.015},{"panel":"E","series":"data","W":1445,"v":0.07,"err":0.015},{"panel":"E","series":"data","W":1460,"v":0.03,"err":0.015},{"panel":"E","series":"data","W":1475,"v":0,"err":0.015},{"panel":"E","series":"data","W":1490,"v":-0.05,"err":0.015},{"panel":"E","series":"data","W":1505,"v":-0.07,"err":0.015},{"panel":"E","series":"data","W":1520,"v":-0.1,"err":0.015},{"panel":"E","series":"data","W":1535,"v":-0.14,"err":0.015},{"panel":"E","series":"data","W":1550,"v":-0.17,"err":0.015},{"panel":"E","series":"data","W":1565,"v":-0.22,"err":0.015},{"panel":"E","series":"data","W":1580,"v":-0.25,"err":0.015},{"panel":"E","series":"data","W":1595,"v":-0.29,"err":0.015},{"panel":"E","series":"data","W":1610,"v":-0.32,"err":0.015},{"panel":"E","series":"data","W":1625,"v":-0.36,"err":0.015},{"panel":"E","series":"data","W":1640,"v":-0.4,"err":0.015},{"panel":"E","series":"data","W":1655,"v":-0.44,"err":0.015},{"panel":"E","series":"data","W":1670,"v":-0.48,"err":0.015},{"panel":"E","series":"data","W":1685,"v":-0.47,"err":0.015},{"panel":"E","series":"data","W":1700,"v":-0.42,"err":0.015},{"panel":"E","series":"data","W":1715,"v":-0.33,"err":0.015},{"panel":"E","series":"data","W":1730,"v":-0.15,"err":0.015},{"panel":"E","series":"data","W":1745,"v":0.05,"err":0.015},{"panel":"E","series":"data","W":1760,"v":0.22,"err":0.015},{"panel":"E","series":"data","W":1775,"v":0.33,"err":0.015},{"panel":"E","series":"data","W":1790,"v":0.4,"err":0.015},{"panel":"E","series":"data","W":1805,"v":0.42,"err":0.015},{"panel":"E","series":"data","W":1820,"v":0.44,"err":0.015},{"panel":"E","series":"data","W":1835,"v":0.46,"err":0.015},{"panel":"E","series":"data","W":1850,"v":0.45,"err":0.015},{"panel":"E","series":"data","W":1865,"v":0.43,"err":0.015},{"panel":"E","series":"data","W":1880,"v":0.41,"err":0.015},{"panel":"E","series":"data","W":1895,"v":0.4,"err":0.015},{"panel":"E","series":"data","W":1910,"v":0.39,"err":0.015},{"panel":"E","series":"data","W":1930,"v":0.37,"err":0.015},{"panel":"E","series":"data","W":1950,"v":0.36,"err":0.015},{"panel":"E","series":"data","W":1970,"v":0.35,"err":0.015},{"panel":"E","series":"data","W":1990,"v":0.33,"err":0.015},{"panel":"E","series":"data","W":2010,"v":0.34,"err":0.015},{"panel":"E","series":"data","W":2030,"v":0.32,"err":0.015},{"panel":"E","series":"data","W":2050,"v":0.3,"err":0.015},{"panel":"E","series":"data","W":2070,"v":0.31,"err":0.015},{"panel":"E","series":"data","W":2090,"v":0.29,"err":0.015},{"panel":"E","series":"data","W":2110,"v":0.3,"err":0.015},{"panel":"E","series":"data","W":2130,"v":0.28,"err":0.015},{"panel":"E","series":"data","W":2150,"v":0.27,"err":0.015},{"panel":"E","series":"data","W":2170,"v":0.29,"err":0.015},{"panel":"E","series":"data","W":2190,"v":0.26,"err":0.015},{"panel":"E","series":"data","W":2210,"v":0.28,"err":0.015},{"panel":"E","series":"data","W":2230,"v":0.25,"err":0.015},{"panel":"E","series":"data","W":2250,"v":0.27,"err":0.015},{"panel":"E","series":"data","W":2270,"v":0.24,"err":0.015},{"panel":"E","series":"data","W":2290,"v":0.26,"err":0.015},{"panel":"E","series":"data","W":2310,"v":0.24,"err":0.015},{"panel":"E","series":"data","W":2330,"v":0.27,"err":0.015},{"panel":"E","series":"data","W":2360,"v":0.24,"err":0.015},{"panel":"E","series":"data","W":2390,"v":0.26,"err":0.015},{"panel":"E","series":"data","W":2420,"v":0.23,"err":0.015},{"panel":"E","series":"data","W":2450,"v":0.25,"err":0.015},{"panel":"E","series":"data","W":2480,"v":0.22,"err":0.015},{"panel":"E","series":"data","W":2510,"v":0.24,"err":0.015},{"panel":"E","series":"data","W":2540,"v":0.21,"err":0.015},{"panel":"E","series":"data","W":2570,"v":0.23,"err":0.015},{"panel":"E","series":"data","W":2600,"v":0.2,"err":0.015},{"panel":"E","series":"data","W":2640,"v":0.19,"err":0.015},{"panel":"E","series":"data","W":2680,"v":0.2,"err":0.015},{"panel":"E","series":"data","W":2720,"v":0.17,"err":0.015},{"panel":"E","series":"data","W":2760,"v":0.2,"err":0.015},{"panel":"E","series":"data","W":2800,"v":0.21,"err":0.015},
{"panel":"F","series":"red","W":1080,"v":0},{"panel":"F","series":"red","W":1310,"v":0},{"panel":"F","series":"red","W":1330,"v":0.08},{"panel":"F","series":"red","W":1360,"v":0.25},{"panel":"F","series":"red","W":1390,"v":0.37},{"panel":"F","series":"red","W":1420,"v":0.44},{"panel":"F","series":"red","W":1460,"v":0.48},{"panel":"F","series":"red","W":1490,"v":0.5},{"panel":"F","series":"red","W":1530,"v":0.48},{"panel":"F","series":"red","W":1570,"v":0.43},{"panel":"F","series":"red","W":1610,"v":0.33},{"panel":"F","series":"red","W":1650,"v":0.15},{"panel":"F","series":"red","W":1690,"v":-0.1},{"panel":"F","series":"red","W":1720,"v":-0.3},{"panel":"F","series":"red","W":1742,"v":-0.41},{"panel":"F","series":"red","W":1765,"v":-0.36},{"panel":"F","series":"red","W":1790,"v":-0.22},{"panel":"F","series":"red","W":1830,"v":-0.02},{"panel":"F","series":"red","W":1870,"v":0.11},{"panel":"F","series":"red","W":1920,"v":0.19},{"panel":"F","series":"red","W":1980,"v":0.24},{"panel":"F","series":"red","W":2050,"v":0.28},{"panel":"F","series":"red","W":2150,"v":0.31},{"panel":"F","series":"red","W":2250,"v":0.34},{"panel":"F","series":"red","W":2400,"v":0.37},{"panel":"F","series":"red","W":2550,"v":0.39},{"panel":"F","series":"red","W":2700,"v":0.4},{"panel":"F","series":"red","W":2850,"v":0.41},{"panel":"F","series":"red","W":3000,"v":0.42},
{"panel":"F","series":"blue","W":1080,"v":0},{"panel":"F","series":"blue","W":1310,"v":0},{"panel":"F","series":"blue","W":1330,"v":0.08},{"panel":"F","series":"blue","W":1360,"v":0.25},{"panel":"F","series":"blue","W":1390,"v":0.37},{"panel":"F","series":"blue","W":1420,"v":0.44},{"panel":"F","series":"blue","W":1460,"v":0.48},{"panel":"F","series":"blue","W":1490,"v":0.5},{"panel":"F","series":"blue","W":1530,"v":0.48},{"panel":"F","series":"blue","W":1570,"v":0.43},{"panel":"F","series":"blue","W":1610,"v":0.33},{"panel":"F","series":"blue","W":1650,"v":0.15},{"panel":"F","series":"blue","W":1690,"v":-0.1},{"panel":"F","series":"blue","W":1720,"v":-0.3},{"panel":"F","series":"blue","W":1742,"v":-0.41},{"panel":"F","series":"blue","W":1765,"v":-0.36},{"panel":"F","series":"blue","W":1790,"v":-0.22},{"panel":"F","series":"blue","W":1830,"v":-0.04},{"panel":"F","series":"blue","W":1870,"v":0.08},{"panel":"F","series":"blue","W":1920,"v":0.16},{"panel":"F","series":"blue","W":1980,"v":0.21},{"panel":"F","series":"blue","W":2050,"v":0.245},{"panel":"F","series":"blue","W":2150,"v":0.28},{"panel":"F","series":"blue","W":2250,"v":0.31},{"panel":"F","series":"blue","W":2400,"v":0.34},{"panel":"F","series":"blue","W":2550,"v":0.36},{"panel":"F","series":"blue","W":2700,"v":0.37},{"panel":"F","series":"blue","W":2780,"v":0.375},
{"panel":"F","series":"green","W":1490,"v":0.5},{"panel":"F","series":"green","W":1540,"v":0.49},{"panel":"F","series":"green","W":1590,"v":0.45},{"panel":"F","series":"green","W":1630,"v":0.37},{"panel":"F","series":"green","W":1670,"v":0.27},{"panel":"F","series":"green","W":1710,"v":0.21},{"panel":"F","series":"green","W":1740,"v":0.2},{"panel":"F","series":"green","W":1770,"v":0.23},{"panel":"F","series":"green","W":1820,"v":0.32},{"panel":"F","series":"green","W":1880,"v":0.42},{"panel":"F","series":"green","W":1940,"v":0.47},{"panel":"F","series":"green","W":1990,"v":0.48},{"panel":"F","series":"green","W":2040,"v":0.46},{"panel":"F","series":"green","W":2100,"v":0.41},{"panel":"F","series":"green","W":2150,"v":0.36},{"panel":"F","series":"green","W":2200,"v":0.33},{"panel":"F","series":"green","W":2300,"v":0.31},{"panel":"F","series":"green","W":2400,"v":0.3},{"panel":"F","series":"green","W":2500,"v":0.3},{"panel":"F","series":"green","W":2600,"v":0.295},{"panel":"F","series":"green","W":2700,"v":0.295},{"panel":"F","series":"green","W":2800,"v":0.295},
{"panel":"F","series":"data","W":1310,"v":0,"err":0.015},{"panel":"F","series":"data","W":1325,"v":0.05,"err":0.015},{"panel":"F","series":"data","W":1340,"v":0.15,"err":0.015},{"panel":"F","series":"data","W":1355,"v":0.25,"err":0.015},{"panel":"F","series":"data","W":1370,"v":0.33,"err":0.015},{"panel":"F","series":"data","W":1385,"v":0.38,"err":0.015},{"panel":"F","series":"data","W":1400,"v":0.42,"err":0.015},{"panel":"F","series":"data","W":1415,"v":0.45,"err":0.015},{"panel":"F","series":"data","W":1430,"v":0.46,"err":0.015},{"panel":"F","series":"data","W":1445,"v":0.49,"err":0.015},{"panel":"F","series":"data","W":1460,"v":0.47,"err":0.015},{"panel":"F","series":"data","W":1475,"v":0.5,"err":0.015},{"panel":"F","series":"data","W":1490,"v":0.53,"err":0.02},{"panel":"F","series":"data","W":1505,"v":0.49,"err":0.015},{"panel":"F","series":"data","W":1520,"v":0.47,"err":0.015},{"panel":"F","series":"data","W":1535,"v":0.45,"err":0.015},{"panel":"F","series":"data","W":1550,"v":0.44,"err":0.015},{"panel":"F","series":"data","W":1565,"v":0.42,"err":0.015},{"panel":"F","series":"data","W":1580,"v":0.4,"err":0.015},{"panel":"F","series":"data","W":1595,"v":0.36,"err":0.015},{"panel":"F","series":"data","W":1610,"v":0.31,"err":0.015},{"panel":"F","series":"data","W":1625,"v":0.24,"err":0.015},{"panel":"F","series":"data","W":1640,"v":0.18,"err":0.015},{"panel":"F","series":"data","W":1655,"v":0.1,"err":0.015},{"panel":"F","series":"data","W":1670,"v":0.02,"err":0.015},{"panel":"F","series":"data","W":1685,"v":-0.06,"err":0.015},{"panel":"F","series":"data","W":1700,"v":-0.15,"err":0.015},{"panel":"F","series":"data","W":1715,"v":-0.25,"err":0.015},{"panel":"F","series":"data","W":1730,"v":-0.35,"err":0.015},{"panel":"F","series":"data","W":1745,"v":-0.42,"err":0.015},{"panel":"F","series":"data","W":1760,"v":-0.37,"err":0.015},{"panel":"F","series":"data","W":1775,"v":-0.3,"err":0.015},{"panel":"F","series":"data","W":1790,"v":-0.2,"err":0.015},{"panel":"F","series":"data","W":1805,"v":-0.12,"err":0.015},{"panel":"F","series":"data","W":1820,"v":-0.06,"err":0.015},{"panel":"F","series":"data","W":1835,"v":0,"err":0.015},{"panel":"F","series":"data","W":1850,"v":0.05,"err":0.015},{"panel":"F","series":"data","W":1865,"v":0.09,"err":0.015},{"panel":"F","series":"data","W":1880,"v":0.13,"err":0.015},{"panel":"F","series":"data","W":1895,"v":0.16,"err":0.015},{"panel":"F","series":"data","W":1910,"v":0.19,"err":0.015},{"panel":"F","series":"data","W":1925,"v":0.21,"err":0.015},{"panel":"F","series":"data","W":1940,"v":0.23,"err":0.015},{"panel":"F","series":"data","W":1960,"v":0.24,"err":0.015},{"panel":"F","series":"data","W":1980,"v":0.26,"err":0.015},{"panel":"F","series":"data","W":2000,"v":0.27,"err":0.015},{"panel":"F","series":"data","W":2020,"v":0.28,"err":0.015},{"panel":"F","series":"data","W":2040,"v":0.3,"err":0.015},{"panel":"F","series":"data","W":2060,"v":0.29,"err":0.015},{"panel":"F","series":"data","W":2080,"v":0.31,"err":0.015},{"panel":"F","series":"data","W":2100,"v":0.3,"err":0.015},{"panel":"F","series":"data","W":2120,"v":0.32,"err":0.015},{"panel":"F","series":"data","W":2140,"v":0.31,"err":0.015},{"panel":"F","series":"data","W":2160,"v":0.33,"err":0.015},{"panel":"F","series":"data","W":2180,"v":0.32,"err":0.015},{"panel":"F","series":"data","W":2200,"v":0.34,"err":0.015},{"panel":"F","series":"data","W":2230,"v":0.33,"err":0.015},{"panel":"F","series":"data","W":2260,"v":0.36,"err":0.015},{"panel":"F","series":"data","W":2290,"v":0.34,"err":0.015},{"panel":"F","series":"data","W":2320,"v":0.37,"err":0.015},{"panel":"F","series":"data","W":2350,"v":0.4,"err":0.015},{"panel":"F","series":"data","W":2380,"v":0.38,"err":0.015},{"panel":"F","series":"data","W":2410,"v":0.39,"err":0.015},{"panel":"F","series":"data","W":2440,"v":0.37,"err":0.015},{"panel":"F","series":"data","W":2470,"v":0.4,"err":0.015},{"panel":"F","series":"data","W":2500,"v":0.38,"err":0.015},{"panel":"F","series":"data","W":2530,"v":0.41,"err":0.015},{"panel":"F","series":"data","W":2560,"v":0.39,"err":0.015},{"panel":"F","series":"data","W":2600,"v":0.4,"err":0.015},{"panel":"F","series":"data","W":2640,"v":0.38,"err":0.015},{"panel":"F","series":"data","W":2680,"v":0.4,"err":0.015},{"panel":"F","series":"data","W":2720,"v":0.39,"err":0.015},{"panel":"F","series":"data","W":2760,"v":0.41,"err":0.015},{"panel":"F","series":"data","W":2800,"v":0.4,"err":0.015}
]
},
"data": {"name": "rows"},
"columns": 2,
"spacing": {"row": 0, "column": 64},
"bounds": "flush",
"concat": [
 {"width": 211, "height": 82, "transform": [{"filter": "datum.panel === 'A'"}],
  "layer": [
   {"transform": [{"filter": "datum.series === 'data'"}], "mark": {"type": "point", "opacity": 0}, "encoding": {
     "x": {"field": "W", "type": "quantitative", "scale": {"domain": [1000, 3000], "nice": false, "zero": false}, "axis": {"orient": "bottom", "values": [1000,1250,1500,1750,2000,2250,2500,2750,3000], "labels": false, "title": null, "tickSize": {"condition": {"test": "indexof([1000,1500,2000,2500,3000], datum.value) >= 0", "value": -7}, "value": -4}}},
     "y": {"field": "v", "type": "quantitative", "scale": {"domain": [-0.16, 0.43], "nice": false, "zero": false}, "axis": {"orient": "left", "values": [-0.15,-0.1,-0.05,0,0.05,0.1,0.15,0.2,0.25,0.3,0.35,0.4], "labelExpr": "indexof([-0.1,0,0.1,0.2,0.3,0.4], datum.value) >= 0 ? '' + datum.value : ''", "labelPadding": 12, "title": "Re Φ", "titlePadding": 4, "minExtent": 30, "maxExtent": 30, "tickSize": {"condition": {"test": "indexof([-0.1,0,0.1,0.2,0.3,0.4], datum.value) >= 0", "value": -7}, "value": -4}}}}},
   {"transform": [{"filter": "datum.series === 'data'"}], "mark": {"type": "point", "opacity": 0}, "encoding": {
     "x": {"field": "W", "type": "quantitative", "scale": {"domain": [1000, 3000], "nice": false, "zero": false}, "axis": {"orient": "top", "values": [1000,1250,1500,1750,2000,2250,2500,2750,3000], "labels": false, "title": null, "tickSize": {"condition": {"test": "indexof([1000,1500,2000,2500,3000], datum.value) >= 0", "value": -7}, "value": -4}}},
     "y": {"field": "v", "type": "quantitative", "scale": {"domain": [-0.16, 0.43], "nice": false, "zero": false}, "axis": {"orient": "right", "values": [-0.15,-0.1,-0.05,0,0.05,0.1,0.15,0.2,0.25,0.3,0.35,0.4], "labels": false, "title": null, "tickSize": {"condition": {"test": "indexof([-0.1,0,0.1,0.2,0.3,0.4], datum.value) >= 0", "value": -7}, "value": -4}}}}},
   {"transform": [{"filter": "datum.series === 'data'"}], "mark": {"type": "errorbar", "ticks": {"size": 4}, "color": "black"}, "encoding": {"x": {"field": "W", "type": "quantitative", "scale": {"domain": [1000, 3000], "nice": false, "zero": false}, "axis": null}, "y": {"field": "v", "type": "quantitative", "scale": {"domain": [-0.16, 0.43], "nice": false, "zero": false}, "axis": null}, "yError": {"field": "err"}}},
   {"transform": [{"filter": "datum.series === 'data'"}], "mark": {"type": "square", "size": 7, "color": "black", "filled": true, "opacity": 1}, "encoding": {"x": {"field": "W", "type": "quantitative", "scale": {"domain": [1000, 3000], "nice": false, "zero": false}, "axis": null}, "y": {"field": "v", "type": "quantitative", "scale": {"domain": [-0.16, 0.43], "nice": false, "zero": false}, "axis": null}}},
   {"transform": [{"filter": "datum.series === 'blue'"}], "mark": {"type": "line", "color": "#0000ff", "strokeWidth": 1.6, "interpolate": "monotone"}, "encoding": {"x": {"field": "W", "type": "quantitative", "scale": {"domain": [1000, 3000], "nice": false, "zero": false}, "axis": null}, "y": {"field": "v", "type": "quantitative", "scale": {"domain": [-0.16, 0.43], "nice": false, "zero": false}, "axis": null}}},
   {"transform": [{"filter": "datum.series === 'red'"}], "mark": {"type": "line", "color": "#ff0000", "strokeWidth": 2.2, "strokeDash": [8, 4], "interpolate": "monotone"}, "encoding": {"x": {"field": "W", "type": "quantitative", "scale": {"domain": [1000, 3000], "nice": false, "zero": false}, "axis": null}, "y": {"field": "v", "type": "quantitative", "scale": {"domain": [-0.16, 0.43], "nice": false, "zero": false}, "axis": null}}},
   {"transform": [{"filter": "datum.series === 'label'"}], "mark": {"type": "text", "font": "Liberation Serif", "fontSize": 16, "align": "center", "baseline": "middle", "color": "black"},
    "encoding": {"x": {"datum": 2490, "type": "quantitative", "axis": null}, "y": {"datum": 0.31, "type": "quantitative", "axis": null}, "text": {"field": "label", "type": "nominal"}}}
  ],
  "resolve": {"axis": {"x": "independent", "y": "independent"}}
 },
 {"width": 212, "height": 82, "transform": [{"filter": "datum.panel === 'B'"}],
  "layer": [
   {"transform": [{"filter": "datum.series === 'data'"}], "mark": {"type": "point", "opacity": 0}, "encoding": {
     "x": {"field": "W", "type": "quantitative", "scale": {"domain": [1000, 3000], "nice": false, "zero": false}, "axis": {"orient": "bottom", "values": [1000,1250,1500,1750,2000,2250,2500,2750,3000], "labels": false, "title": null, "tickSize": {"condition": {"test": "indexof([1000,1500,2000,2500,3000], datum.value) >= 0", "value": -7}, "value": -4}}},
     "y": {"field": "v", "type": "quantitative", "scale": {"domain": [-0.05, 0.7], "nice": false, "zero": false}, "axis": {"orient": "left", "values": [0,0.1,0.2,0.3,0.4,0.5,0.6,0.7], "labelExpr": "indexof([0,0.2,0.4,0.6], datum.value) >= 0 ? '' + datum.value : ''", "labelPadding": 12, "title": "Im Φ", "titlePadding": 4, "minExtent": 30, "maxExtent": 30, "tickSize": {"condition": {"test": "indexof([0,0.2,0.4,0.6], datum.value) >= 0", "value": -7}, "value": -4}}}}},
   {"transform": [{"filter": "datum.series === 'data'"}], "mark": {"type": "point", "opacity": 0}, "encoding": {
     "x": {"field": "W", "type": "quantitative", "scale": {"domain": [1000, 3000], "nice": false, "zero": false}, "axis": {"orient": "top", "values": [1000,1250,1500,1750,2000,2250,2500,2750,3000], "labels": false, "title": null, "tickSize": {"condition": {"test": "indexof([1000,1500,2000,2500,3000], datum.value) >= 0", "value": -7}, "value": -4}}},
     "y": {"field": "v", "type": "quantitative", "scale": {"domain": [-0.05, 0.7], "nice": false, "zero": false}, "axis": {"orient": "right", "values": [0,0.1,0.2,0.3,0.4,0.5,0.6,0.7], "labels": false, "title": null, "tickSize": {"condition": {"test": "indexof([0,0.2,0.4,0.6], datum.value) >= 0", "value": -7}, "value": -4}}}}},
   {"transform": [{"filter": "datum.series === 'data'"}], "mark": {"type": "errorbar", "ticks": {"size": 4}, "color": "black"}, "encoding": {"x": {"field": "W", "type": "quantitative", "scale": {"domain": [1000, 3000], "nice": false, "zero": false}, "axis": null}, "y": {"field": "v", "type": "quantitative", "scale": {"domain": [-0.05, 0.7], "nice": false, "zero": false}, "axis": null}, "yError": {"field": "err"}}},
   {"transform": [{"filter": "datum.series === 'data'"}], "mark": {"type": "square", "size": 7, "color": "black", "filled": true, "opacity": 1}, "encoding": {"x": {"field": "W", "type": "quantitative", "scale": {"domain": [1000, 3000], "nice": false, "zero": false}, "axis": null}, "y": {"field": "v", "type": "quantitative", "scale": {"domain": [-0.05, 0.7], "nice": false, "zero": false}, "axis": null}}},
   {"transform": [{"filter": "datum.series === 'blue'"}], "mark": {"type": "line", "color": "#0000ff", "strokeWidth": 1.6, "interpolate": "monotone"}, "encoding": {"x": {"field": "W", "type": "quantitative", "scale": {"domain": [1000, 3000], "nice": false, "zero": false}, "axis": null}, "y": {"field": "v", "type": "quantitative", "scale": {"domain": [-0.05, 0.7], "nice": false, "zero": false}, "axis": null}}},
   {"transform": [{"filter": "datum.series === 'red'"}], "mark": {"type": "line", "color": "#ff0000", "strokeWidth": 2.2, "strokeDash": [8, 4], "interpolate": "monotone"}, "encoding": {"x": {"field": "W", "type": "quantitative", "scale": {"domain": [1000, 3000], "nice": false, "zero": false}, "axis": null}, "y": {"field": "v", "type": "quantitative", "scale": {"domain": [-0.05, 0.7], "nice": false, "zero": false}, "axis": null}}},
   {"transform": [{"filter": "datum.series === 'label'"}], "mark": {"type": "text", "font": "Liberation Serif", "fontSize": 16, "align": "center", "baseline": "middle", "color": "black"},
    "encoding": {"x": {"datum": 2500, "type": "quantitative", "axis": null}, "y": {"datum": 0.07, "type": "quantitative", "axis": null}, "text": {"field": "label", "type": "nominal"}}}
  ],
  "resolve": {"axis": {"x": "independent", "y": "independent"}}
 },
 {"width": 211, "height": 83, "transform": [{"filter": "datum.panel === 'C'"}],
  "layer": [
   {"transform": [{"filter": "datum.series === 'data'"}], "mark": {"type": "point", "opacity": 0}, "encoding": {
     "x": {"field": "W", "type": "quantitative", "scale": {"domain": [1000, 3000], "nice": false, "zero": false}, "axis": {"orient": "bottom", "values": [1000,1250,1500,1750,2000,2250,2500,2750,3000], "labels": false, "title": null, "tickSize": {"condition": {"test": "indexof([1000,1500,2000,2500,3000], datum.value) >= 0", "value": -7}, "value": -4}}},
     "y": {"field": "v", "type": "quantitative", "scale": {"domain": [-0.28, 0.3], "nice": false, "zero": false}, "axis": {"orient": "left", "values": [-0.25,-0.2,-0.15,-0.1,-0.05,0,0.05,0.1,0.15,0.2,0.25], "labelExpr": "indexof([-0.2,-0.1,0,0.1,0.2], datum.value) >= 0 ? '' + datum.value : ''", "labelPadding": 12, "title": "Re Φ", "titlePadding": 4, "minExtent": 30, "maxExtent": 30, "tickSize": {"condition": {"test": "indexof([-0.2,-0.1,0,0.1,0.2], datum.value) >= 0", "value": -7}, "value": -4}}}}},
   {"transform": [{"filter": "datum.series === 'data'"}], "mark": {"type": "point", "opacity": 0}, "encoding": {
     "x": {"field": "W", "type": "quantitative", "scale": {"domain": [1000, 3000], "nice": false, "zero": false}, "axis": {"orient": "top", "values": [1000,1250,1500,1750,2000,2250,2500,2750,3000], "labels": false, "title": null, "tickSize": {"condition": {"test": "indexof([1000,1500,2000,2500,3000], datum.value) >= 0", "value": -7}, "value": -4}}},
     "y": {"field": "v", "type": "quantitative", "scale": {"domain": [-0.28, 0.3], "nice": false, "zero": false}, "axis": {"orient": "right", "values": [-0.25,-0.2,-0.15,-0.1,-0.05,0,0.05,0.1,0.15,0.2,0.25], "labels": false, "title": null, "tickSize": {"condition": {"test": "indexof([-0.2,-0.1,0,0.1,0.2], datum.value) >= 0", "value": -7}, "value": -4}}}}},
   {"transform": [{"filter": "datum.series === 'green'"}], "mark": {"type": "line", "color": "#00ff00", "strokeWidth": 1.4, "strokeDash": [6, 3, 1.5, 3, 1.5, 3], "interpolate": "monotone"}, "encoding": {"x": {"field": "W", "type": "quantitative", "scale": {"domain": [1000, 3000], "nice": false, "zero": false}, "axis": null}, "y": {"field": "v", "type": "quantitative", "scale": {"domain": [-0.28, 0.3], "nice": false, "zero": false}, "axis": null}}},
   {"transform": [{"filter": "datum.series === 'data'"}], "mark": {"type": "errorbar", "ticks": {"size": 4}, "color": "black"}, "encoding": {"x": {"field": "W", "type": "quantitative", "scale": {"domain": [1000, 3000], "nice": false, "zero": false}, "axis": null}, "y": {"field": "v", "type": "quantitative", "scale": {"domain": [-0.28, 0.3], "nice": false, "zero": false}, "axis": null}, "yError": {"field": "err"}}},
   {"transform": [{"filter": "datum.series === 'data'"}], "mark": {"type": "square", "size": 7, "color": "black", "filled": true, "opacity": 1}, "encoding": {"x": {"field": "W", "type": "quantitative", "scale": {"domain": [1000, 3000], "nice": false, "zero": false}, "axis": null}, "y": {"field": "v", "type": "quantitative", "scale": {"domain": [-0.28, 0.3], "nice": false, "zero": false}, "axis": null}}},
   {"transform": [{"filter": "datum.series === 'blue'"}], "mark": {"type": "line", "color": "#0000ff", "strokeWidth": 1.6, "interpolate": "monotone"}, "encoding": {"x": {"field": "W", "type": "quantitative", "scale": {"domain": [1000, 3000], "nice": false, "zero": false}, "axis": null}, "y": {"field": "v", "type": "quantitative", "scale": {"domain": [-0.28, 0.3], "nice": false, "zero": false}, "axis": null}}},
   {"transform": [{"filter": "datum.series === 'red'"}], "mark": {"type": "line", "color": "#ff0000", "strokeWidth": 2.2, "strokeDash": [8, 4], "interpolate": "monotone"}, "encoding": {"x": {"field": "W", "type": "quantitative", "scale": {"domain": [1000, 3000], "nice": false, "zero": false}, "axis": null}, "y": {"field": "v", "type": "quantitative", "scale": {"domain": [-0.28, 0.3], "nice": false, "zero": false}, "axis": null}}},
   {"transform": [{"filter": "datum.series === 'label'"}], "mark": {"type": "text", "font": "Liberation Serif", "fontSize": 16, "align": "center", "baseline": "middle", "color": "black"},
    "encoding": {"x": {"datum": 2525, "type": "quantitative", "axis": null}, "y": {"datum": 0.08, "type": "quantitative", "axis": null}, "text": {"field": "label", "type": "nominal"}}}
  ],
  "resolve": {"axis": {"x": "independent", "y": "independent"}}
 },
 {"width": 212, "height": 83, "transform": [{"filter": "datum.panel === 'D'"}],
  "layer": [
   {"transform": [{"filter": "datum.series === 'data'"}], "mark": {"type": "point", "opacity": 0}, "encoding": {
     "x": {"field": "W", "type": "quantitative", "scale": {"domain": [1000, 3000], "nice": false, "zero": false}, "axis": {"orient": "bottom", "values": [1000,1250,1500,1750,2000,2250,2500,2750,3000], "labels": false, "title": null, "tickSize": {"condition": {"test": "indexof([1000,1500,2000,2500,3000], datum.value) >= 0", "value": -7}, "value": -4}}},
     "y": {"field": "v", "type": "quantitative", "scale": {"domain": [-0.3, 0.5], "nice": false, "zero": false}, "axis": {"orient": "left", "values": [-0.3,-0.2,-0.1,0,0.1,0.2,0.3,0.4,0.5], "labelExpr": "indexof([-0.2,0,0.2,0.4], datum.value) >= 0 ? '' + datum.value : ''", "labelPadding": 12, "title": "Im Φ", "titlePadding": 4, "minExtent": 30, "maxExtent": 30, "tickSize": {"condition": {"test": "indexof([-0.2,0,0.2,0.4], datum.value) >= 0", "value": -7}, "value": -4}}}}},
   {"transform": [{"filter": "datum.series === 'data'"}], "mark": {"type": "point", "opacity": 0}, "encoding": {
     "x": {"field": "W", "type": "quantitative", "scale": {"domain": [1000, 3000], "nice": false, "zero": false}, "axis": {"orient": "top", "values": [1000,1250,1500,1750,2000,2250,2500,2750,3000], "labels": false, "title": null, "tickSize": {"condition": {"test": "indexof([1000,1500,2000,2500,3000], datum.value) >= 0", "value": -7}, "value": -4}}},
     "y": {"field": "v", "type": "quantitative", "scale": {"domain": [-0.3, 0.5], "nice": false, "zero": false}, "axis": {"orient": "right", "values": [-0.3,-0.2,-0.1,0,0.1,0.2,0.3,0.4,0.5], "labels": false, "title": null, "tickSize": {"condition": {"test": "indexof([-0.2,0,0.2,0.4], datum.value) >= 0", "value": -7}, "value": -4}}}}},
   {"transform": [{"filter": "datum.series === 'green'"}], "mark": {"type": "line", "color": "#00ff00", "strokeWidth": 1.4, "strokeDash": [6, 3, 1.5, 3, 1.5, 3], "interpolate": "monotone"}, "encoding": {"x": {"field": "W", "type": "quantitative", "scale": {"domain": [1000, 3000], "nice": false, "zero": false}, "axis": null}, "y": {"field": "v", "type": "quantitative", "scale": {"domain": [-0.3, 0.5], "nice": false, "zero": false}, "axis": null}}},
   {"transform": [{"filter": "datum.series === 'data'"}], "mark": {"type": "errorbar", "ticks": {"size": 4}, "color": "black"}, "encoding": {"x": {"field": "W", "type": "quantitative", "scale": {"domain": [1000, 3000], "nice": false, "zero": false}, "axis": null}, "y": {"field": "v", "type": "quantitative", "scale": {"domain": [-0.3, 0.5], "nice": false, "zero": false}, "axis": null}, "yError": {"field": "err"}}},
   {"transform": [{"filter": "datum.series === 'data'"}], "mark": {"type": "square", "size": 7, "color": "black", "filled": true, "opacity": 1}, "encoding": {"x": {"field": "W", "type": "quantitative", "scale": {"domain": [1000, 3000], "nice": false, "zero": false}, "axis": null}, "y": {"field": "v", "type": "quantitative", "scale": {"domain": [-0.3, 0.5], "nice": false, "zero": false}, "axis": null}}},
   {"transform": [{"filter": "datum.series === 'blue'"}], "mark": {"type": "line", "color": "#0000ff", "strokeWidth": 1.6, "interpolate": "monotone"}, "encoding": {"x": {"field": "W", "type": "quantitative", "scale": {"domain": [1000, 3000], "nice": false, "zero": false}, "axis": null}, "y": {"field": "v", "type": "quantitative", "scale": {"domain": [-0.3, 0.5], "nice": false, "zero": false}, "axis": null}}},
   {"transform": [{"filter": "datum.series === 'red'"}], "mark": {"type": "line", "color": "#ff0000", "strokeWidth": 2.2, "strokeDash": [8, 4], "interpolate": "monotone"}, "encoding": {"x": {"field": "W", "type": "quantitative", "scale": {"domain": [1000, 3000], "nice": false, "zero": false}, "axis": null}, "y": {"field": "v", "type": "quantitative", "scale": {"domain": [-0.3, 0.5], "nice": false, "zero": false}, "axis": null}}},
   {"transform": [{"filter": "datum.series === 'label'"}], "mark": {"type": "text", "font": "Liberation Serif", "fontSize": 16, "align": "center", "baseline": "middle", "color": "black"},
    "encoding": {"x": {"datum": 2555, "type": "quantitative", "axis": null}, "y": {"datum": 0.36, "type": "quantitative", "axis": null}, "text": {"field": "label", "type": "nominal"}}}
  ],
  "resolve": {"axis": {"x": "independent", "y": "independent"}}
 },
 {"width": 211, "height": 83, "transform": [{"filter": "datum.panel === 'E'"}],
  "layer": [
   {"transform": [{"filter": "datum.series === 'data'"}], "mark": {"type": "point", "opacity": 0}, "encoding": {
     "x": {"field": "W", "type": "quantitative", "scale": {"domain": [1000, 3000], "nice": false, "zero": false}, "axis": {"orient": "bottom", "values": [1000,1250,1500,1750,2000,2250,2500,2750,3000], "labelExpr": "indexof([1000,1500,2000,2500,3000], datum.value) >= 0 ? '' + datum.value : ''", "labelPadding": 10, "title": "W[MeV]", "titlePadding": 1, "tickSize": {"condition": {"test": "indexof([1000,1500,2000,2500,3000], datum.value) >= 0", "value": -7}, "value": -4}}},
     "y": {"field": "v", "type": "quantitative", "scale": {"domain": [-0.52, 0.54], "nice": false, "zero": false}, "axis": {"orient": "left", "values": [-0.5,-0.4,-0.3,-0.2,-0.1,0,0.1,0.2,0.3,0.4,0.5], "labelExpr": "indexof([-0.4,-0.2,0,0.2,0.4], datum.value) >= 0 ? '' + datum.value : ''", "labelPadding": 12, "title": "Re Φ", "titlePadding": 4, "minExtent": 30, "maxExtent": 30, "tickSize": {"condition": {"test": "indexof([-0.4,-0.2,0,0.2,0.4], datum.value) >= 0", "value": -7}, "value": -4}}}}},
   {"transform": [{"filter": "datum.series === 'data'"}], "mark": {"type": "point", "opacity": 0}, "encoding": {
     "x": {"field": "W", "type": "quantitative", "scale": {"domain": [1000, 3000], "nice": false, "zero": false}, "axis": {"orient": "top", "values": [1000,1250,1500,1750,2000,2250,2500,2750,3000], "labels": false, "title": null, "tickSize": {"condition": {"test": "indexof([1000,1500,2000,2500,3000], datum.value) >= 0", "value": -7}, "value": -4}}},
     "y": {"field": "v", "type": "quantitative", "scale": {"domain": [-0.52, 0.54], "nice": false, "zero": false}, "axis": {"orient": "right", "values": [-0.5,-0.4,-0.3,-0.2,-0.1,0,0.1,0.2,0.3,0.4,0.5], "labels": false, "title": null, "tickSize": {"condition": {"test": "indexof([-0.4,-0.2,0,0.2,0.4], datum.value) >= 0", "value": -7}, "value": -4}}}}},
   {"transform": [{"filter": "datum.series === 'green'"}], "mark": {"type": "line", "color": "#00ff00", "strokeWidth": 1.4, "strokeDash": [6, 3, 1.5, 3, 1.5, 3], "interpolate": "monotone"}, "encoding": {"x": {"field": "W", "type": "quantitative", "scale": {"domain": [1000, 3000], "nice": false, "zero": false}, "axis": null}, "y": {"field": "v", "type": "quantitative", "scale": {"domain": [-0.52, 0.54], "nice": false, "zero": false}, "axis": null}}},
   {"transform": [{"filter": "datum.series === 'data'"}], "mark": {"type": "errorbar", "ticks": {"size": 4}, "color": "black"}, "encoding": {"x": {"field": "W", "type": "quantitative", "scale": {"domain": [1000, 3000], "nice": false, "zero": false}, "axis": null}, "y": {"field": "v", "type": "quantitative", "scale": {"domain": [-0.52, 0.54], "nice": false, "zero": false}, "axis": null}, "yError": {"field": "err"}}},
   {"transform": [{"filter": "datum.series === 'data'"}], "mark": {"type": "square", "size": 7, "color": "black", "filled": true, "opacity": 1}, "encoding": {"x": {"field": "W", "type": "quantitative", "scale": {"domain": [1000, 3000], "nice": false, "zero": false}, "axis": null}, "y": {"field": "v", "type": "quantitative", "scale": {"domain": [-0.52, 0.54], "nice": false, "zero": false}, "axis": null}}},
   {"transform": [{"filter": "datum.series === 'blue'"}], "mark": {"type": "line", "color": "#0000ff", "strokeWidth": 1.6, "interpolate": "monotone"}, "encoding": {"x": {"field": "W", "type": "quantitative", "scale": {"domain": [1000, 3000], "nice": false, "zero": false}, "axis": null}, "y": {"field": "v", "type": "quantitative", "scale": {"domain": [-0.52, 0.54], "nice": false, "zero": false}, "axis": null}}},
   {"transform": [{"filter": "datum.series === 'red'"}], "mark": {"type": "line", "color": "#ff0000", "strokeWidth": 2.2, "strokeDash": [8, 4], "interpolate": "monotone"}, "encoding": {"x": {"field": "W", "type": "quantitative", "scale": {"domain": [1000, 3000], "nice": false, "zero": false}, "axis": null}, "y": {"field": "v", "type": "quantitative", "scale": {"domain": [-0.52, 0.54], "nice": false, "zero": false}, "axis": null}}},
   {"transform": [{"filter": "datum.series === 'label'"}], "mark": {"type": "text", "font": "Liberation Serif", "fontSize": 16, "align": "center", "baseline": "middle", "color": "black"},
    "encoding": {"x": {"datum": 2475, "type": "quantitative", "axis": null}, "y": {"datum": -0.31, "type": "quantitative", "axis": null}, "text": {"field": "label", "type": "nominal"}}}
  ],
  "resolve": {"axis": {"x": "independent", "y": "independent"}}
 },
 {"width": 212, "height": 83, "transform": [{"filter": "datum.panel === 'F'"}],
  "layer": [
   {"transform": [{"filter": "datum.series === 'data'"}], "mark": {"type": "point", "opacity": 0}, "encoding": {
     "x": {"field": "W", "type": "quantitative", "scale": {"domain": [1000, 3000], "nice": false, "zero": false}, "axis": {"orient": "bottom", "values": [1000,1250,1500,1750,2000,2250,2500,2750,3000], "labelExpr": "indexof([1000,1500,2000,2500,3000], datum.value) >= 0 ? '' + datum.value : ''", "labelPadding": 10, "title": "W[MeV]", "titlePadding": 1, "tickSize": {"condition": {"test": "indexof([1000,1500,2000,2500,3000], datum.value) >= 0", "value": -7}, "value": -4}}},
     "y": {"field": "v", "type": "quantitative", "scale": {"domain": [-0.5, 0.58], "nice": false, "zero": false}, "axis": {"orient": "left", "values": [-0.5,-0.4,-0.3,-0.2,-0.1,0,0.1,0.2,0.3,0.4,0.5], "labelExpr": "indexof([-0.4,-0.2,0,0.2,0.4], datum.value) >= 0 ? '' + datum.value : ''", "labelPadding": 12, "title": "Im Φ", "titlePadding": 4, "minExtent": 30, "maxExtent": 30, "tickSize": {"condition": {"test": "indexof([-0.4,-0.2,0,0.2,0.4], datum.value) >= 0", "value": -7}, "value": -4}}}}},
   {"transform": [{"filter": "datum.series === 'data'"}], "mark": {"type": "point", "opacity": 0}, "encoding": {
     "x": {"field": "W", "type": "quantitative", "scale": {"domain": [1000, 3000], "nice": false, "zero": false}, "axis": {"orient": "top", "values": [1000,1250,1500,1750,2000,2250,2500,2750,3000], "labels": false, "title": null, "tickSize": {"condition": {"test": "indexof([1000,1500,2000,2500,3000], datum.value) >= 0", "value": -7}, "value": -4}}},
     "y": {"field": "v", "type": "quantitative", "scale": {"domain": [-0.5, 0.58], "nice": false, "zero": false}, "axis": {"orient": "right", "values": [-0.5,-0.4,-0.3,-0.2,-0.1,0,0.1,0.2,0.3,0.4,0.5], "labels": false, "title": null, "tickSize": {"condition": {"test": "indexof([-0.4,-0.2,0,0.2,0.4], datum.value) >= 0", "value": -7}, "value": -4}}}}},
   {"transform": [{"filter": "datum.series === 'green'"}], "mark": {"type": "line", "color": "#00ff00", "strokeWidth": 1.4, "strokeDash": [6, 3, 1.5, 3, 1.5, 3], "interpolate": "monotone"}, "encoding": {"x": {"field": "W", "type": "quantitative", "scale": {"domain": [1000, 3000], "nice": false, "zero": false}, "axis": null}, "y": {"field": "v", "type": "quantitative", "scale": {"domain": [-0.5, 0.58], "nice": false, "zero": false}, "axis": null}}},
   {"transform": [{"filter": "datum.series === 'data'"}], "mark": {"type": "errorbar", "ticks": {"size": 4}, "color": "black"}, "encoding": {"x": {"field": "W", "type": "quantitative", "scale": {"domain": [1000, 3000], "nice": false, "zero": false}, "axis": null}, "y": {"field": "v", "type": "quantitative", "scale": {"domain": [-0.5, 0.58], "nice": false, "zero": false}, "axis": null}, "yError": {"field": "err"}}},
   {"transform": [{"filter": "datum.series === 'data'"}], "mark": {"type": "square", "size": 7, "color": "black", "filled": true, "opacity": 1}, "encoding": {"x": {"field": "W", "type": "quantitative", "scale": {"domain": [1000, 3000], "nice": false, "zero": false}, "axis": null}, "y": {"field": "v", "type": "quantitative", "scale": {"domain": [-0.5, 0.58], "nice": false, "zero": false}, "axis": null}}},
   {"transform": [{"filter": "datum.series === 'blue'"}], "mark": {"type": "line", "color": "#0000ff", "strokeWidth": 1.6, "interpolate": "monotone"}, "encoding": {"x": {"field": "W", "type": "quantitative", "scale": {"domain": [1000, 3000], "nice": false, "zero": false}, "axis": null}, "y": {"field": "v", "type": "quantitative", "scale": {"domain": [-0.5, 0.58], "nice": false, "zero": false}, "axis": null}}},
   {"transform": [{"filter": "datum.series === 'red'"}], "mark": {"type": "line", "color": "#ff0000", "strokeWidth": 2.2, "strokeDash": [8, 4], "interpolate": "monotone"}, "encoding": {"x": {"field": "W", "type": "quantitative", "scale": {"domain": [1000, 3000], "nice": false, "zero": false}, "axis": null}, "y": {"field": "v", "type": "quantitative", "scale": {"domain": [-0.5, 0.58], "nice": false, "zero": false}, "axis": null}}},
   {"transform": [{"filter": "datum.series === 'label'"}], "mark": {"type": "text", "font": "Liberation Serif", "fontSize": 16, "align": "center", "baseline": "middle", "color": "black"},
    "encoding": {"x": {"datum": 2520, "type": "quantitative", "axis": null}, "y": {"datum": -0.26, "type": "quantitative", "axis": null}, "text": {"field": "label", "type": "nominal"}}}
  ],
  "resolve": {"axis": {"x": "independent", "y": "independent"}}
 }
]
}
